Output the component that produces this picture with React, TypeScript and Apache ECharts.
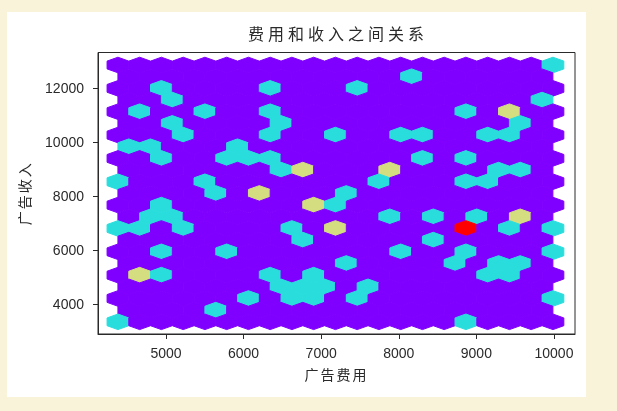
import React, { useEffect, useRef } from "react";
import * as echarts from "echarts";

const titleText = "费用和收入之间关系";
const xName = "广告费用";
const yName = "广告收入";
const xTicks = [5000, 6000, 7000, 8000, 9000, 10000];
const yTicks = [4000, 6000, 8000, 10000, 12000];

const xCentersA = [4381, 4661, 4941, 5222, 5502, 5782, 6063, 6343, 6623, 6903, 7184, 7464, 7744, 8025, 8305, 8585, 8865, 9146, 9426, 9706, 9987];
const xCentersB = [4521, 4801, 5081, 5362, 5642, 5922, 6203, 6483, 6763, 7043, 7324, 7604, 7884, 8165, 8445, 8725, 9005, 9286, 9566, 9846];
const yCenters = [12852, 12420, 11987, 11555, 11123, 10690, 10258, 9826, 9393, 8961, 8528, 8096, 7664, 7231, 6799, 6367, 5934, 5502, 5070, 4637, 4205, 3773, 3340];

const hexWidth = 280.3;
const hexHeight = 864.7;
const countColors = ["#8000ff", "#2adddd", "#d4dd80", "#ff0000"];

// One row per y centre; even rows use xCentersA, odd rows xCentersB.
const counts = [
  [0,0,0,0,0,0,0,0,0,0,0,0,0,0,0,0,0,0,0,0,1],
  [0,0,0,0,0,0,0,0,0,0,0,0,0,1,0,0,0,0,0,0],
  [0,0,1,0,0,0,0,1,0,0,0,1,0,0,0,0,0,0,0,0,0],
  [0,0,1,0,0,0,0,0,0,0,0,0,0,0,0,0,0,0,0,1],
  [0,1,0,0,1,0,0,1,0,0,0,0,0,0,0,0,1,0,2,0,0],
  [0,0,1,0,0,0,0,1,0,0,0,0,0,0,0,0,0,0,1,0],
  [0,0,0,1,0,0,0,1,0,0,1,0,0,1,1,0,0,1,1,0,0],
  [1,1,0,0,0,1,0,0,0,0,0,0,0,0,0,0,0,0,0,0],
  [0,0,1,0,0,1,1,1,0,0,0,0,0,0,1,0,1,0,0,0,0],
  [0,0,0,0,0,0,0,1,2,0,0,0,2,0,0,0,0,1,1,0],
  [1,0,0,0,1,0,0,0,0,0,0,0,1,0,0,0,1,1,0,0,0],
  [0,0,0,0,1,0,2,0,0,0,1,0,0,0,0,0,0,0,0,0],
  [0,0,1,0,0,0,0,0,0,2,1,0,0,0,0,0,0,0,0,0,0],
  [0,1,1,0,0,0,0,0,0,0,0,0,1,0,1,0,1,0,2,0],
  [1,1,0,1,0,0,0,0,1,0,2,0,0,0,0,0,3,0,1,0,1],
  [0,0,0,0,0,0,0,0,1,0,0,0,0,0,1,0,0,0,0,0],
  [0,0,1,0,0,1,0,0,0,0,0,0,0,1,0,0,1,0,0,0,1],
  [0,0,0,0,0,0,0,0,0,0,1,0,0,0,0,1,0,1,1,0],
  [0,2,1,0,0,0,0,1,0,1,0,0,0,0,0,0,0,1,1,0,0],
  [0,0,0,0,0,0,0,1,1,1,0,1,0,0,0,0,0,0,0,0],
  [0,0,0,0,0,0,1,0,1,1,0,1,0,0,0,0,0,0,0,0,1],
  [0,0,0,0,1,0,0,0,0,0,0,0,0,0,0,0,0,0,0,0],
  [1,0,0,0,0,0,0,0,0,0,0,0,0,0,0,0,1,0,0,0,0],
];

const hexData: number[][] = [];
counts.forEach((row, r) => {
  const xs = r % 2 === 0 ? xCentersA : xCentersB;
  row.forEach((v, c) => hexData.push([xs[c], yCenters[r], v]));
});

const cjk = '"Noto Sans CJK SC", sans-serif';
const latin = '"Liberation Sans", sans-serif';
const ink = "#2a2a2a";

export default function App() {
  const ref = useRef<HTMLDivElement>(null);
  useEffect(() => {
    document.body.style.margin = "0";
    const chart = echarts.init(ref.current!, null, { renderer: "svg" });
    chart.setOption({
      animation: false,
      backgroundColor: "#f8f3d9",
      graphic: [
        { type: "rect", z: -10, shape: { x: 7, y: 12, width: 579, height: 385 }, style: { fill: "#ffffff" }, silent: true },
      ],
      title: {
        text: titleText,
        left: 333,
        top: 20,
        textAlign: "center",
        textStyle: { fontFamily: cjk, fontSize: 16, fontWeight: "normal", color: ink },
      },
      grid: { left: 98, top: 52.5, width: 477, height: 281.5, show: true, borderColor: ink, borderWidth: 1, backgroundColor: "#ffffff" },
      xAxis: {
        type: "value",
        min: 4124,
        max: 10271,
        name: xName,
        nameLocation: "middle",
        nameGap: 33,
        nameTextStyle: { fontFamily: cjk, fontSize: 14, color: ink },
        splitLine: { show: false },
        axisLine: { show: true, onZero: false, lineStyle: { color: ink } },
        axisTick: { show: true, length: 5, customValues: xTicks, lineStyle: { color: ink } },
        axisLabel: { customValues: xTicks, formatter: (v: number) => String(v), fontFamily: latin, fontSize: 14, color: ink, margin: 12 },
      },
      yAxis: {
        type: "value",
        min: 2889,
        max: 13315,
        name: yName,
        nameLocation: "middle",
        nameGap: 67,
        nameTextStyle: { fontFamily: cjk, fontSize: 14, color: ink },
        splitLine: { show: false },
        axisLine: { show: true, onZero: false, lineStyle: { color: ink } },
        axisTick: { show: true, length: 5, customValues: yTicks, lineStyle: { color: ink } },
        axisLabel: { customValues: yTicks, formatter: (v: number) => String(v), fontFamily: latin, fontSize: 14, color: ink, margin: 14 },
      },
      series: [
        {
          type: "custom",
          coordinateSystem: "cartesian2d",
          data: hexData,
          encode: { x: 0, y: 1 },
          silent: true,
          renderItem: (_params: any, api: any) => {
            const [cx, cy] = api.coord([api.value(0), api.value(1)]);
            const [w, h] = api.size([hexWidth, hexHeight]);
            const color = countColors[api.value(2)];
            const hw = w / 2;
            const u = h / 3;
            return {
              type: "polygon",
              shape: {
                points: [
                  [cx + hw, cy - u / 2],
                  [cx + hw, cy + u / 2],
                  [cx, cy + u],
                  [cx - hw, cy + u / 2],
                  [cx - hw, cy - u / 2],
                  [cx, cy - u],
                ],
              },
              style: { fill: color, stroke: color, lineWidth: 1 },
            };
          },
        },
      ],
    });
    // Wider character spacing of the reference's CJK labels.
    ref.current!.querySelectorAll("text").forEach((el) => {
      const t = el.textContent;
      if (t === titleText) el.style.letterSpacing = "4px";
      else if (t === xName || t === yName) el.style.letterSpacing = "2px";
    });
    return () => chart.dispose();
  }, []);
  return <div ref={ref} style={{ width: 617, height: 411, filter: "blur(0.4px)" }} />;
}
